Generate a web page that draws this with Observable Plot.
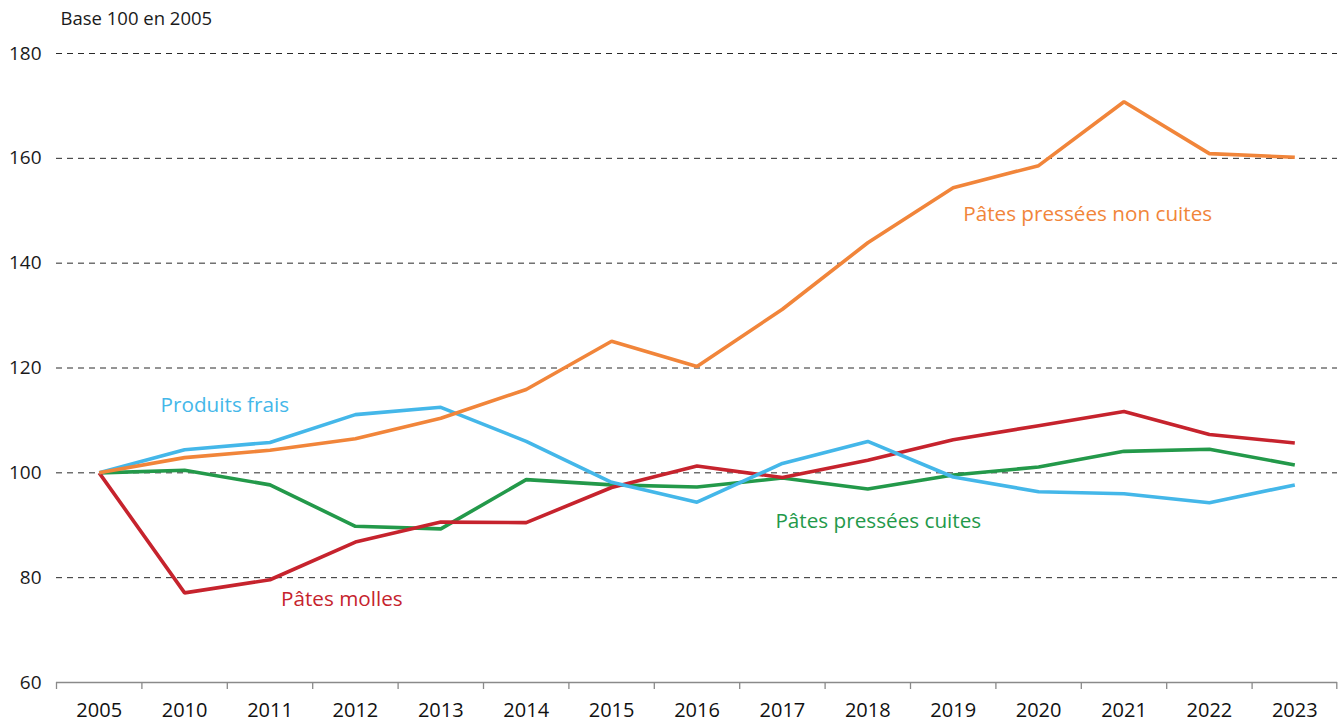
<!DOCTYPE html>
<html>
<head>
<meta charset="utf-8">
<script src="https://cdn.jsdelivr.net/npm/d3@7"></script>
<script src="https://cdn.jsdelivr.net/npm/@observablehq/plot@0.6"></script>
<style>
  html, body { margin: 0; padding: 0; background: #fff; }
  #chart { width: 1338px; height: 724px; }
</style>
</head>
<body>
<div id="chart"></div>
<script>
const years = ["2005","2010","2011","2012","2013","2014","2015","2016","2017","2018","2019","2020","2021","2022","2023"];
const yTicks = [60, 80, 100, 120, 140, 160, 180];
const gridTicks = [80, 100, 120, 140, 160, 180];

const seriesNames = ["Pâtes pressées cuites", "Pâtes molles", "Produits frais", "Pâtes pressées non cuites"];
const ppcValues   = [100, 100.5, 97.7, 89.8, 89.3, 98.7, 97.7, 97.3, 99.0, 96.9, 99.6, 101.1, 104.1, 104.5, 101.5];
const molleValues = [100, 77.1, 79.6, 86.8, 90.6, 90.5, 97.2, 101.3, 99.1, 102.4, 106.3, 109.0, 111.7, 107.3, 105.7];
const fraisValues = [100, 104.4, 105.8, 111.1, 112.5, 106.0, 98.2, 94.4, 101.8, 106.0, 99.2, 96.4, 96.0, 94.3, 97.7];
const ppncValues  = [100, 102.9, 104.3, 106.5, 110.4, 115.9, 125.1, 120.3, 131.2, 143.9, 154.4, 158.6, 170.8, 160.9, 160.2];
const seriesColors = ["#23994a", "#c6232d", "#44b7e9", "#f1853a"];

// label anchors (year, value) for series labels
const labelYears  = ["2017", "2011", "2010", "2019"];
const labelValues = [90.7, 75.8, 112.8, 149.3];
const labelDx     = [-7, 11, -24, 10];

const allValues = [ppcValues, molleValues, fraisValues, ppncValues];
const rows = [];
seriesNames.forEach((s, k) => years.forEach((yr, i) => rows.push({series: s, year: yr, value: allValues[k][i]})));

const W = 1338, H = 724, mL = 56, mR = 1;
const bw = (W - mL - mR) / years.length;

const labelMarks = seriesNames.map((s, k) =>
  Plot.text([{series: s, year: labelYears[k], value: labelValues[k]}], {
    x: "year", y: "value", text: "series", fill: seriesColors[k],
    dx: labelDx[k], textAnchor: "start", fontSize: 20.7
  })
);

const chart = Plot.plot({
  width: W,
  height: H,
  marginLeft: mL,
  marginRight: mR,
  marginTop: 53,
  marginBottom: 42,
  style: {fontFamily: "'Open Sans', sans-serif", background: "#fff", overflow: "visible"},
  x: {type: "band", domain: years, padding: 0, round: false, label: null},
  y: {domain: [60, 180], label: null},
  color: {domain: seriesNames, range: seriesColors},
  marks: [
    Plot.gridY(gridTicks, {stroke: "#2a2a2a", strokeOpacity: 1, strokeWidth: 1, strokeDasharray: "6,5"}),
    Plot.axisY(yTicks, {tickSize: 0, tickPadding: 15, fontSize: 19, color: "#1a1a1a", label: null}),
    Plot.axisX({tickSize: 0, tickPadding: 20, fontSize: 20, color: "#111", label: null}),
    Plot.ruleY([60], {stroke: "#8a8a8a", strokeWidth: 1.6}),
    Plot.ruleX(years, {x: d => d, y1: 60, y2: 60, insetBottom: -7, dx: -bw / 2, stroke: "#8a8a8a", strokeWidth: 1.3}),
    Plot.ruleX([years[years.length - 1]], {x: d => d, y1: 60, y2: 60, insetBottom: -7, dx: bw / 2 - 0.7, stroke: "#8a8a8a", strokeWidth: 1.3}),
    Plot.line(rows, {x: "year", y: "value", z: "series", stroke: "series", strokeWidth: 3.6, strokeLinejoin: "miter", strokeLinecap: "butt"}),
    ...labelMarks,
    Plot.text(["Base 100 en 2005"], {frameAnchor: "top-left", dx: 4, dy: -42, textAnchor: "start", lineAnchor: "top", fontSize: 18.5, fill: "#1a1a1a"})
  ]
});
document.getElementById("chart").appendChild(chart);
</script>
</body>
</html>
